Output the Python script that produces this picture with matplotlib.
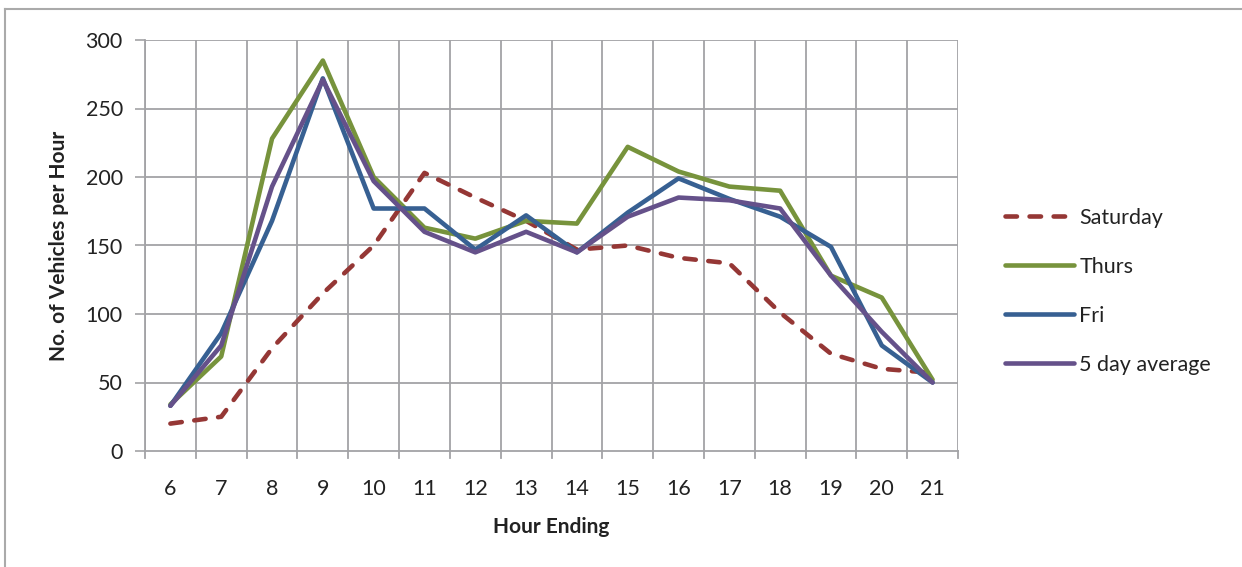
import matplotlib
matplotlib.use("Agg")
import matplotlib.pyplot as plt
from matplotlib.lines import Line2D

hours = ["6", "7", "8", "9", "10", "11", "12", "13", "14", "15", "16", "17", "18", "19", "20", "21"]
saturday = [20, 25, 75, 115, 150, 203, 185, 168, 147, 150, 141, 137, 101, 71, 60, 57]
thurs = [34, 69, 228, 285, 200, 163, 155, 168, 166, 222, 204, 193, 190, 128, 112, 52]
fri = [33, 86, 168, 272, 177, 177, 147, 172, 145, 174, 199, 184, 171, 149, 77, 50]
avg5 = [33, 77, 193, 271, 197, 160, 145, 160, 145, 171, 185, 183, 177, 128, 87, 50]

plt.rcParams["font.family"] = ["Lato", "DejaVu Sans"]

fig = plt.figure(figsize=(12.42, 5.67), dpi=100)
ax = fig.add_axes([145 / 1242, 1 - 451 / 567, 813 / 1242, 411 / 567])

grid = "#a3a3a6"
txt = "#222222"
fs = 15.5
x = range(len(hours))
ax.plot(x, saturday, color="#953735", lw=3.3, ls=(0, (2.5, 2.75)), label="Saturday",
        solid_capstyle="round", dash_capstyle="round")
ax.plot(x, thurs, color="#77933c", lw=3.3, label="Thurs", solid_capstyle="round")
ax.plot(x, fri, color="#376092", lw=3.3, label="Fri", solid_capstyle="round")
ax.plot(x, avg5, color="#65518a", lw=3.3, label="5 day average", solid_capstyle="round")

ax.set_xlim(-0.5, len(hours) - 0.5)
ax.set_ylim(0, 300)
ax.set_yticks(range(0, 301, 50))
ax.set_xticks(x)
ax.set_xticklabels(hours)
ax.tick_params(axis="x", length=0, pad=20, labelsize=fs, colors=txt)
ax.tick_params(axis="y", length=7, width=1.2, color=grid, pad=9, labelsize=fs, labelcolor=txt)

# category boundaries with short tick marks below the axis
for b in range(len(hours) + 1):
    ax.axvline(b - 0.5, color=grid, lw=1.3, zorder=0)
    ax.plot([b - 0.5, b - 0.5], [0, -5], color=grid, lw=1.3, clip_on=False)
for v in range(50, 301, 50):
    ax.axhline(v, color=grid, lw=1.3, zorder=0)

for s in ["top", "right"]:
    ax.spines[s].set_visible(False)
for s in ["left", "bottom"]:
    ax.spines[s].set_color(grid)
    ax.spines[s].set_linewidth(1.3)

ax.set_xlabel("Hour Ending", fontsize=15, fontweight="bold", color=txt, labelpad=13)
ax.set_ylabel("No. of Vehicles per Hour", fontsize=15, fontweight="bold", color=txt, labelpad=12)

leg = ax.legend(loc="center left", bbox_to_anchor=(1.034, 0.389), frameon=False,
                fontsize=fs, handlelength=3.2, handletextpad=0.25, labelspacing=1.35)
for t in leg.get_texts():
    t.set_color(txt)

# outer chart border
fig.add_artist(Line2D([5 / 1242, 5 / 1242], [0, 1 - 9 / 567], color="#aaaaaa", lw=1.5))
fig.add_artist(Line2D([5 / 1242, 1], [1 - 9 / 567, 1 - 9 / 567], color="#aaaaaa", lw=1.5))

fig.savefig("out.png", dpi=100, facecolor="white")
